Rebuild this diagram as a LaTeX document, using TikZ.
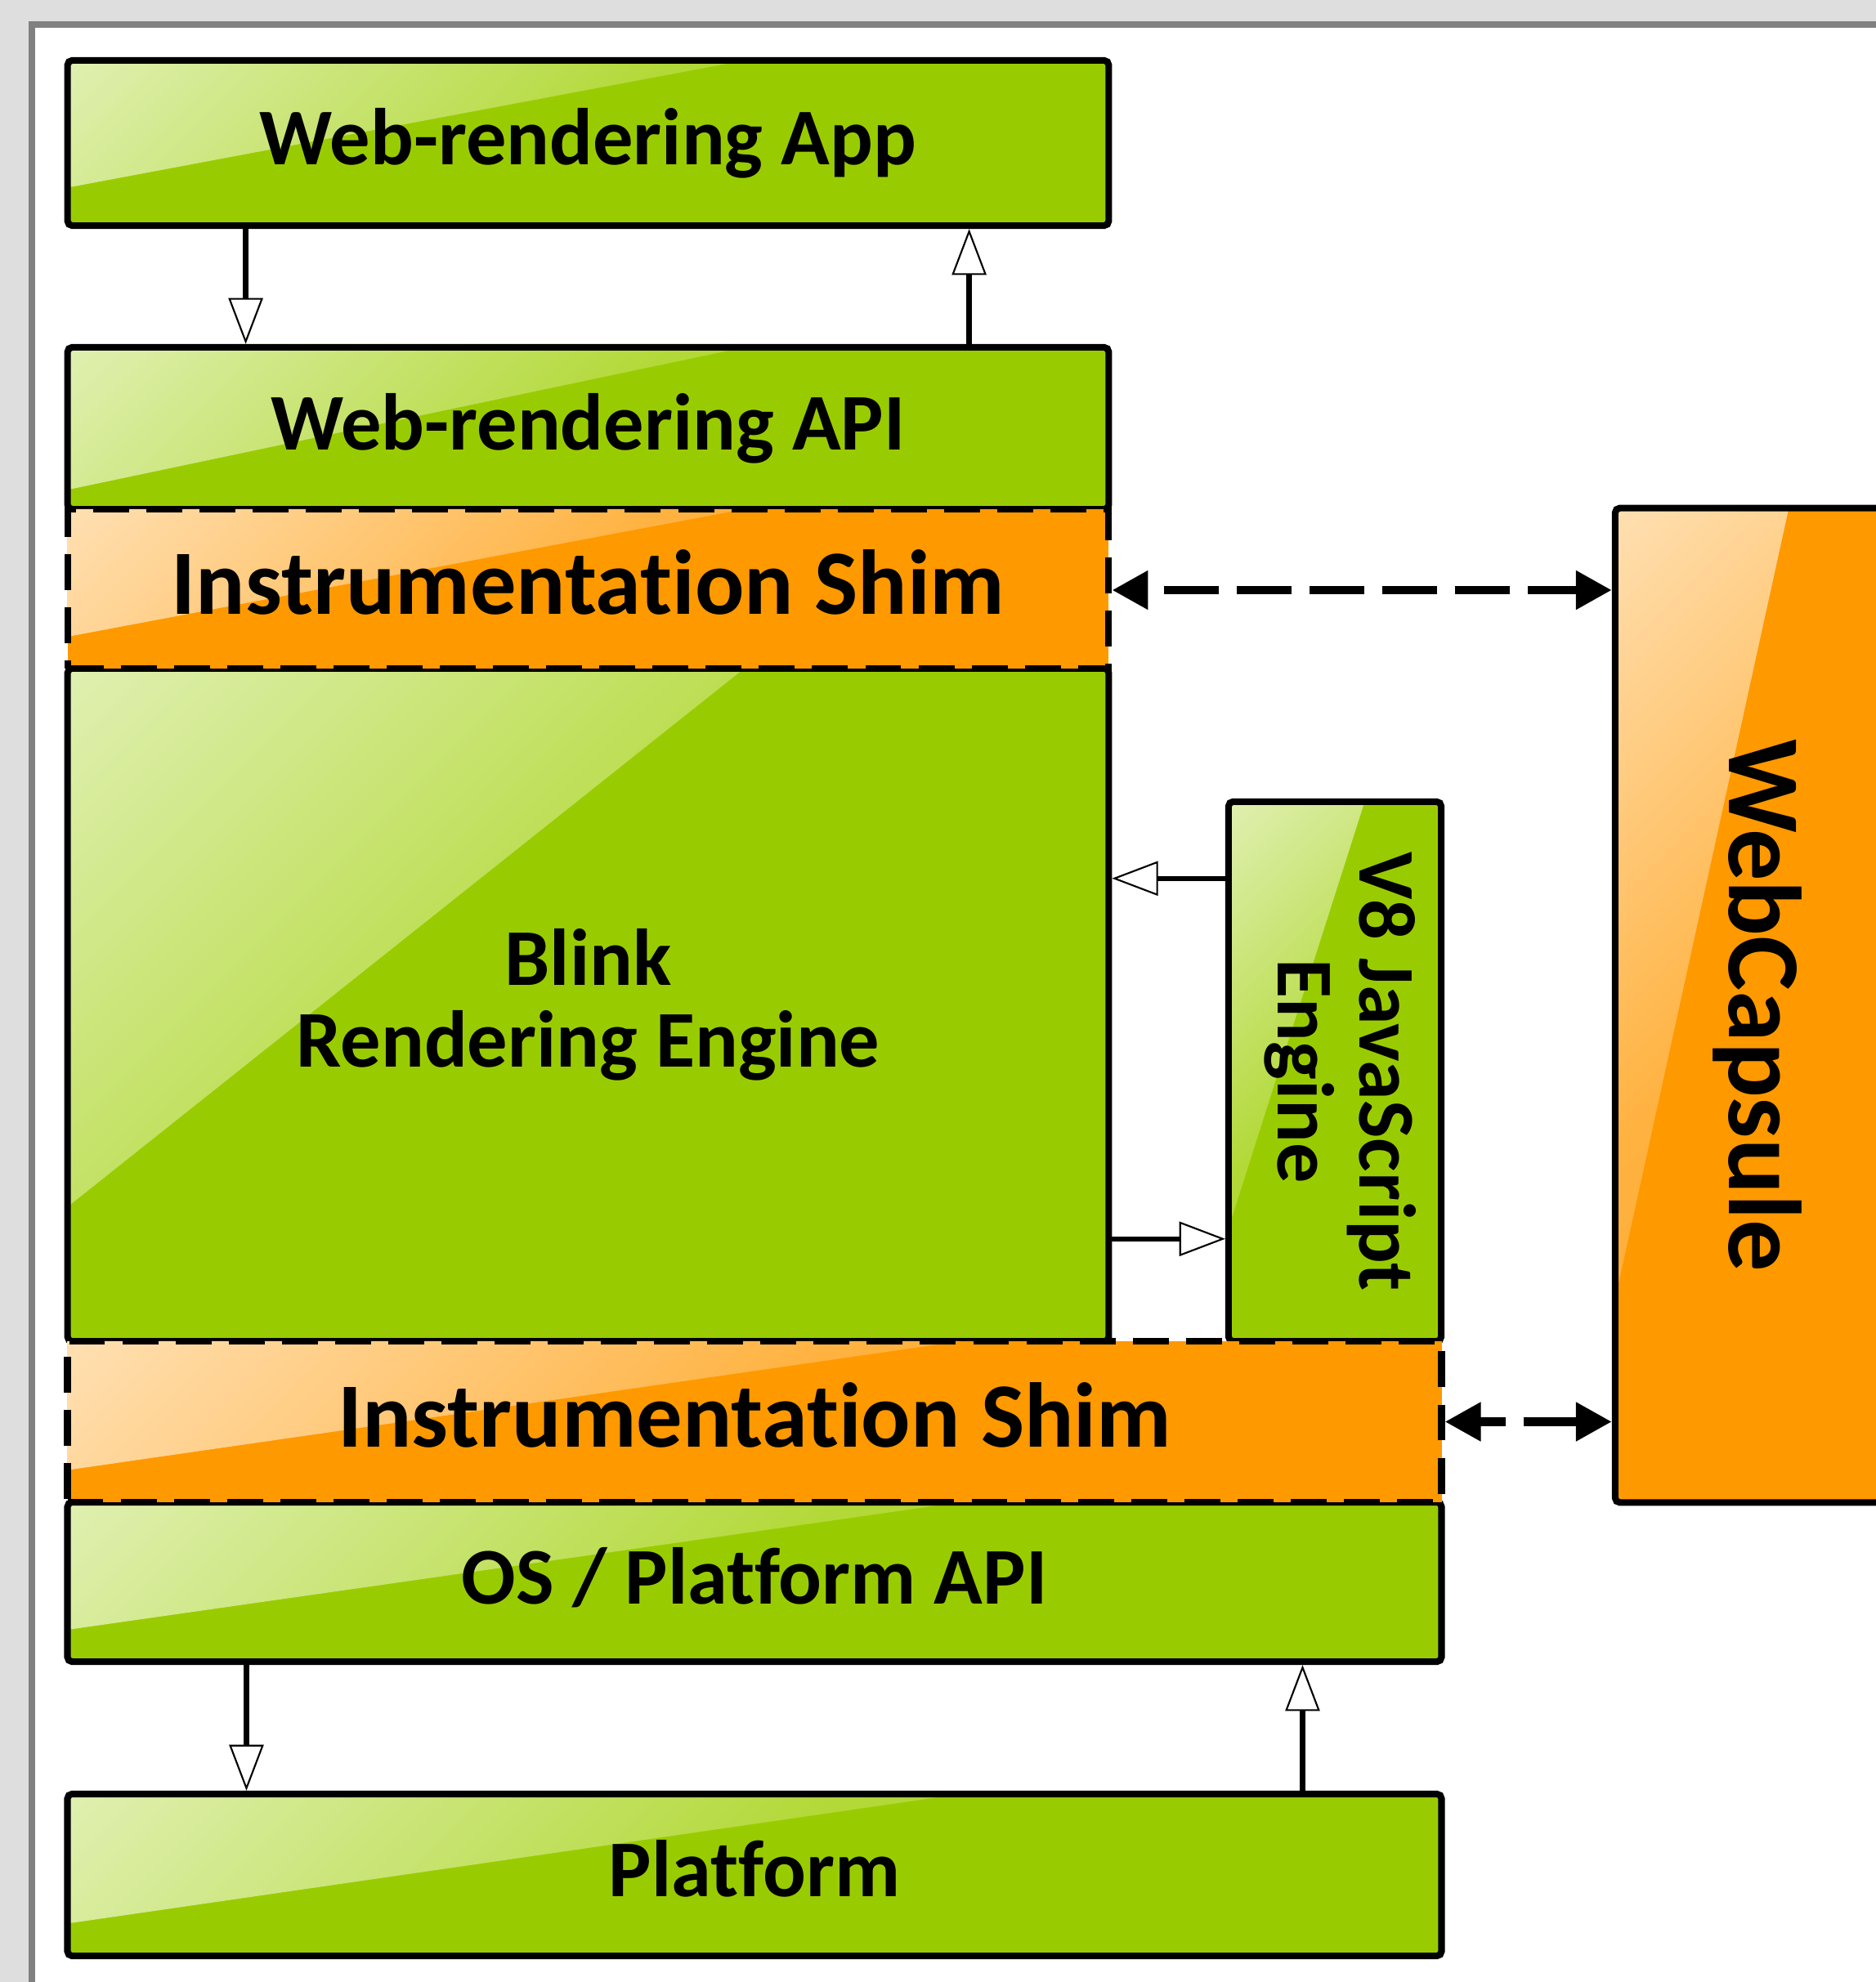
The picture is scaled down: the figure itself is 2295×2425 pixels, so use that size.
\documentclass[tikz,border=0pt]{standalone}
\usepackage{fontspec}
\setmainfont{Carlito}[Ligatures=NoCommon]
\usetikzlibrary{arrows.meta,calc}
\definecolor{grn}{HTML}{99CC00}
\definecolor{grnhi}{HTML}{F2F9E2}
\definecolor{grnmid}{HTML}{B3D939}
\definecolor{grnlo}{HTML}{A3D214}
\definecolor{org}{HTML}{FF9900}
\definecolor{orghi}{HTML}{FFF2E0}
\definecolor{orgmid}{HTML}{FFB240}
\definecolor{orglo}{HTML}{FFA21C}
\definecolor{framegray}{HTML}{808080}
\definecolor{outerbg}{HTML}{DEDEDE}
\pgfdeclareverticalshading{glossgreen}{100bp}{color(0bp)=(grnlo); color(50bp)=(grnmid); color(100bp)=(grnhi)}
\pgfdeclareverticalshading{glossorange}{100bp}{color(0bp)=(orglo); color(50bp)=(orgmid); color(100bp)=(orghi)}
\tikzset{
  gx/.store in=\glx, gy/.store in=\gly, gx=0.65, gy=0.8,
  glosspic/.style={path picture={
    \shade[shading=#1, shading angle=45]
      (path picture bounding box.north west)
      -- ($(path picture bounding box.north west)!\glx!(path picture bounding box.north east)$)
      -- ($(path picture bounding box.north west)!\gly!(path picture bounding box.south west)$)
      -- cycle;}},
  box/.style={draw=black, line width=2.3pt, rounded corners=1.6pt, inner sep=0pt, align=center,
    text=black, font=\bfseries\fontsize{28}{28.5}\selectfont},
  gbox/.style={box, fill=grn, glosspic=glossgreen},
  obox/.style={box, fill=org, glosspic=glossorange},
  shimbox/.style={obox, sharp corners, dash pattern=on 12.5pt off 6pt,
    font=\bfseries\fontsize{32}{34}\selectfont},
  lbl/.style={inner sep=0pt, align=center, text=black, font=\bfseries\fontsize{28}{28.5}\selectfont},
  biglbl/.style={inner sep=0pt, align=center, text=black, font=\bfseries\fontsize{36}{38}\selectfont},
  flow/.style={line width=1.85pt, -{Triangle[length=16pt, width=12pt, fill=white, line width=0.6pt]}},
  link/.style={line width=3.1pt, dash pattern=on 19pt off 6.3pt,
    {Triangle[length=12.5pt,width=12.8pt]}-{Triangle[length=12.5pt,width=12.8pt]}},
}
\begin{document}
\begin{tikzpicture}[x=0.01cm, y=-0.01cm]
\useasboundingbox (0,0) rectangle (2295,2425);
\clip (0,0) rectangle (2295,2425);
\fill[outerbg] (0,0) rectangle (2295,2425);
\draw[framegray, line width=2pt, fill=white] (39,30) rectangle (2450,2500);

% green layers
\node[gbox, gx=0.65, gy=0.77, minimum width=12.73cm, minimum height=2.02cm] (app) at (719.5,175) {Web-rendering App};
\node[gbox, gx=0.65, gy=0.88, minimum width=12.73cm, minimum height=1.98cm] (api) at (719.5,524) {Web-rendering API};
\node[gbox, gx=0.65, gy=0.80, minimum width=12.73cm, minimum height=8.23cm] (blink) at (719.5,1229.5) {Blink\\Rendering Engine};
\node[gbox, gx=0.64, gy=0.79, minimum width=2.60cm, minimum height=6.60cm] (v8) at (1633,1311) {};
\node[gbox, gx=0.65, gy=0.80, minimum width=16.80cm, minimum height=1.95cm] (os) at (923,1935.5) {OS / Platform API\vphantom{p}};
\node[gbox, gx=0.65, gy=0.80, minimum width=16.80cm, minimum height=1.98cm] (plat) at (923,2294) {Platform\vphantom{p}};

% instrumentation shims
\node[shimbox, gx=0.65, gy=0.80, minimum width=12.73cm, minimum height=1.95cm] (shim1) at (719.5,720.5) {Instrumentation Shim\vphantom{p}};
\node[shimbox, gx=0.65, gy=0.80, minimum width=16.80cm, minimum height=1.97cm] (shim2) at (923,1739.5) {Instrumentation Shim\vphantom{p}};

% WebCapsule
\node[obox, gx=0.61, gy=0.795, minimum width=3.48cm, minimum height=12.16cm] (wc) at (2150,1230) {};

% rotated labels
\node[lbl, rotate=-90] (v8t) at ($(v8.center)+(7,0)$) {V8 JavaScript\\Engine};
\node[biglbl, rotate=-90] (wct) at (wc.center) {WebCapsule};

% flow arrows
\draw[flow] ($(app.south west)+(222,0)$) -- ($(api.north west)+(222,0)$);
\draw[flow] ($(api.north west)+(1107,0)$) -- ($(app.south west)+(1107,0)$);
\coordinate (p1) at ($(v8.north west)+(0,98)$);
\coordinate (p2) at ($(v8.north west)+(0,539)$);
\draw[flow] (p1) -- (p1 -| blink.east);
\draw[flow] (p2 -| blink.east) -- (p2);
\draw[flow] ($(os.south west)+(223,0)$) -- ($(plat.north west)+(223,0)$);
\draw[flow] ($(plat.north west)+(1515,0)$) -- ($(os.south west)+(1515,0)$);

% dashed links
\draw[link, dash phase=19pt] ($(shim1.east)+(0,1.5)$) -- ($(shim1.east -| wc.west)+(0,1.5)$);
\draw[link, dash phase=9.7pt] (shim2.east) -- (shim2.east -| wc.west);
\end{tikzpicture}
\end{document}
